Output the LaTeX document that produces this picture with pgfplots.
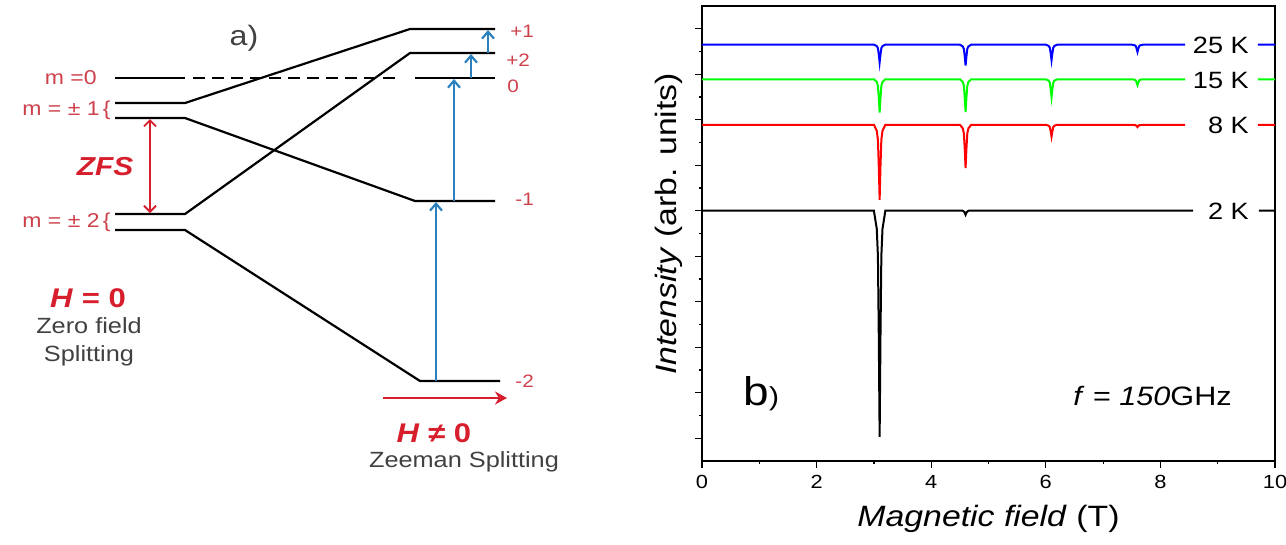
\documentclass[border=0pt]{standalone}
\usepackage{fontspec}
\setmainfont{Liberation Sans}[FakeStretch=1.15]
\usepackage{pgfplots}
\pgfplotsset{compat=1.18}
\usetikzlibrary{arrows.meta}

\definecolor{lblred}{RGB}{205,65,75}
\definecolor{strongred}{RGB}{215,30,45}
\definecolor{txtgray}{RGB}{65,65,65}
\definecolor{arrblue}{RGB}{45,128,190}

\newcommand{\fs}[1]{\fontsize{#1}{#1}\selectfont}

\begin{document}
\begin{tikzpicture}[x=1pt,y=1pt]
\useasboundingbox (0pt,-272.5pt) rectangle (643pt,0pt);

% ---------------- a) energy levels: zero field and Zeeman splitting ----------------
\begin{axis}[at={(0pt,0pt)}, anchor=north west, scale only axis,
  width=321.5pt, height=272.5pt,
  xmin=0, xmax=643, ymin=0, ymax=545, y dir=reverse,
  hide axis, clip=false]
  % zero-field levels and their evolution in field
  \addplot[black, line width=1.1pt] coordinates {(115,78) (185,78)};
  \addplot[black, line width=1.1pt, dash pattern=on 6pt off 3.5pt] coordinates {(193,78) (400,78)};
  \addplot[black, line width=1.1pt] coordinates {(415,78) (495,78)};
  \addplot[black, line width=1.1pt] coordinates {(115,103) (185,103) (410,29) (495,29)};
  \addplot[black, line width=1.1pt] coordinates {(115,118) (185,118) (415,201) (495,201)};
  \addplot[black, line width=1.1pt] coordinates {(115,214) (185,214) (410,53) (495,53)};
  \addplot[black, line width=1.1pt] coordinates {(115,230) (185,230) (420,381) (500,381)};
  % allowed transitions
  \addplot[arrblue, line width=1.1pt, -{Straight Barb[length=3.5pt,width=6pt,line width=1.1pt]}] coordinates {(436,381) (436,202)};
  \addplot[arrblue, line width=1.1pt, -{Straight Barb[length=3.5pt,width=6pt,line width=1.1pt]}] coordinates {(454,201) (454,79)};
  \addplot[arrblue, line width=1.1pt, -{Straight Barb[length=3.5pt,width=6pt,line width=1.1pt]}] coordinates {(471,78) (471,54)};
  \addplot[arrblue, line width=1.1pt, -{Straight Barb[length=3.5pt,width=6pt,line width=1.1pt]}] coordinates {(488,53) (488,30)};
  % zero field splitting
  \addplot[strongred, line width=0.9pt, {Straight Barb[length=3pt,width=6pt,line width=0.9pt]}-{Straight Barb[length=3pt,width=6pt,line width=0.9pt]}] coordinates {(150,119) (150,213)};
  % field direction
  \addplot[strongred, line width=1.1pt, -{Stealth[length=6pt,width=6.5pt]}] coordinates {(383,398) (507,398)};

  \node[anchor=base, inner sep=0, text=txtgray, font=\fs{14}] at (axis cs:244,45) {a)};
  \node[anchor=base east, inner sep=0, text=lblred, font=\fs{10}] at (axis cs:97,84) {m =0};
  \node[anchor=base east, inner sep=0, text=lblred, font=\fs{10}] at (axis cs:111,115) {m = ± 1\,\{};
  \node[anchor=base east, inner sep=0, text=lblred, font=\fs{10}] at (axis cs:111,227) {m = ± 2\,\{};
  \node[anchor=base, inner sep=0, text=strongred, font=\fs{13}\bfseries\itshape] at (axis cs:105,175) {ZFS};
  \node[anchor=base west, inner sep=0, text=lblred, font=\fs{9}] at (axis cs:510,37) {+1};
  \node[anchor=base west, inner sep=0, text=lblred, font=\fs{9}] at (axis cs:506,66) {+2};
  \node[anchor=base west, inner sep=0, text=lblred, font=\fs{9}] at (axis cs:507,92) {0};
  \node[anchor=base west, inner sep=0, text=lblred, font=\fs{9}] at (axis cs:515,205) {-1};
  \node[anchor=base west, inner sep=0, text=lblred, font=\fs{9}] at (axis cs:515,387) {-2};
  \node[anchor=base, inner sep=0, text=strongred, font=\fs{13.5}\bfseries] at (axis cs:88,307) {\textit{H} = 0};
  \node[anchor=base, inner sep=0, text=txtgray, font=\fs{11}] at (axis cs:89,333) {Zero field};
  \node[anchor=base, inner sep=0, text=txtgray, font=\fs{11}] at (axis cs:89,361) {Splitting};
  \node[anchor=base, inner sep=0, text=strongred, font=\fs{13.5}\bfseries] at (axis cs:434,442) {\textit{H} ≠ 0};
  \node[anchor=base, inner sep=0, text=txtgray, font=\fs{11}] at (axis cs:464,467) {Zeeman Splitting};
\end{axis}

% ---------------- b) spectra at several temperatures ----------------
\begin{axis}[at={(351pt,-3pt)}, anchor=north west, scale only axis,
  width=286.5pt, height=227.5pt,
  xmin=0, xmax=10, ymin=-5.5, ymax=4.5,
  xtick={0,2,...,10}, minor x tick num=1,
  ytick={-5,...,4}, minor y tick num=1, yticklabels={},
  tick pos=left, tick align=outside,
  major tick length=3.5pt, minor tick length=1.75pt,
  every tick/.style={black, line width=0.6pt},
  axis line style={line width=0.75pt},
  xticklabel style={font=\fs{9.5}, /pgf/number format/assume math mode=true},
  unbounded coords=jump, clip=false]

  % 25 K
  \addplot[blue, line width=1pt] coordinates {
    (0,3.65) (3.00,3.65) (3.05,3.619) (3.07,3.572) (3.085,3.436) (3.10,3.26) (3.115,3.436) (3.13,3.572) (3.15,3.619) (3.20,3.65)
    (4.50,3.65) (4.55,3.613) (4.57,3.558) (4.585,3.397) (4.60,3.19) (4.615,3.397) (4.63,3.558) (4.65,3.613) (4.70,3.65)
    (6.00,3.65) (6.05,3.623) (6.07,3.582) (6.085,3.463) (6.10,3.31) (6.115,3.463) (6.13,3.582) (6.15,3.623) (6.20,3.65)
    (7.50,3.65) (7.55,3.637) (7.57,3.618) (7.585,3.562) (7.60,3.49) (7.615,3.562) (7.63,3.618) (7.65,3.637) (7.70,3.65)
    (8.43,3.65) (9,nan) (9.70,3.65) (10,3.65)};
  % 15 K
  \addplot[green, line width=1pt] coordinates {
    (0,2.89) (3.00,2.89) (3.05,2.832) (3.07,2.744) (3.085,2.489) (3.10,2.16) (3.115,2.489) (3.13,2.744) (3.15,2.832) (3.20,2.89)
    (4.50,2.89) (4.55,2.832) (4.57,2.746) (4.585,2.494) (4.60,2.17) (4.615,2.494) (4.63,2.746) (4.65,2.832) (4.70,2.89)
    (6.00,2.89) (6.05,2.859) (6.07,2.812) (6.085,2.676) (6.10,2.50) (6.115,2.676) (6.13,2.812) (6.15,2.859) (6.20,2.89)
    (7.50,2.89) (7.55,2.880) (7.57,2.864) (7.585,2.819) (7.60,2.76) (7.615,2.819) (7.63,2.864) (7.65,2.880) (7.70,2.89)
    (8.43,2.89) (9,nan) (9.70,2.89) (10,2.89)};
  % 8 K
  \addplot[red, line width=1pt] coordinates {
    (0,1.89) (3.00,1.89) (3.05,1.758) (3.07,1.56) (3.085,0.983) (3.10,0.24) (3.115,0.983) (3.13,1.56) (3.15,1.758) (3.20,1.89)
    (4.50,1.89) (4.55,1.814) (4.57,1.70) (4.585,1.368) (4.60,0.94) (4.615,1.368) (4.63,1.70) (4.65,1.814) (4.70,1.89)
    (6.00,1.89) (6.05,1.869) (6.07,1.838) (6.085,1.747) (6.10,1.63) (6.115,1.747) (6.13,1.838) (6.15,1.869) (6.20,1.89)
    (7.50,1.89) (7.57,1.88) (7.585,1.862) (7.60,1.84) (7.615,1.862) (7.63,1.88) (7.70,1.89)
    (8.43,1.89) (9,nan) (9.70,1.89) (10,1.89)};
  % 2 K
  \addplot[black, line width=1pt] coordinates {
    (0,0) (3.00,0) (3.05,-0.398) (3.07,-0.994) (3.085,-2.734) (3.10,-4.97) (3.115,-2.734) (3.13,-0.994) (3.15,-0.398) (3.20,0)
    (4.55,0) (4.58,-0.03) (4.60,-0.09) (4.62,-0.03) (4.65,0)
    (8.57,0) (9,nan) (9.72,0) (10,0)};

  \node[anchor=base east, inner sep=0, font=\fs{11.8}] at (axis cs:9.55,3.45) {25 K};
  \node[anchor=base east, inner sep=0, font=\fs{11.8}] at (axis cs:9.55,2.69) {15 K};
  \node[anchor=base east, inner sep=0, font=\fs{11.8}] at (axis cs:9.55,1.69) {8 K};
  \node[anchor=base east, inner sep=0, font=\fs{11.8}] at (axis cs:9.55,-0.2) {2 K};

  \node[anchor=base west, inner sep=0] at (rel axis cs:0.0716,0.123) {\fs{20}b\fs{13})};
  \node[anchor=base east, inner sep=0, font=\fs{13.3}] at (rel axis cs:0.925,0.121) {\textit{f} = \textit{150}GHz};
  \node[anchor=base, inner sep=0, font=\fs{14.7}] at (rel axis cs:0.5,-0.145) {\textit{Magnetic field} (T)};
  \node[rotate=90, anchor=center, inner sep=0, font=\fs{14.7}] at (rel axis cs:-0.0576,0.521) {\textit{Intensity} (arb. units)};
\end{axis}
\end{tikzpicture}
\end{document}
